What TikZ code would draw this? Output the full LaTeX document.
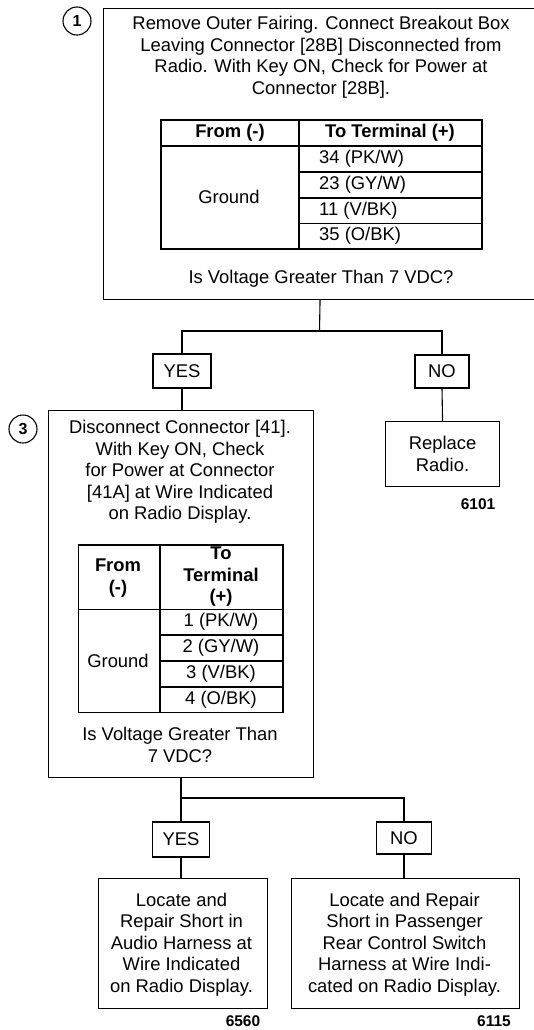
\documentclass[tikz,border=0pt]{standalone}
\usepackage{fontspec}
\setmainfont{Liberation Sans}
\begin{document}
\begin{tikzpicture}[x=1pt,y=-1pt,
  box/.style={draw, line width=1.1pt, inner sep=0pt, anchor=north west},
  txt/.style={font=\fontsize{18.4}{21.5}\selectfont, align=center, inner sep=0pt},
  btxt/.style={font=\fontsize{18.4}{21.5}\selectfont\bfseries, align=center, inner sep=0pt},
  rtxt/.style={font=\fontsize{18.4}{21.5}\selectfont, inner sep=0pt, anchor=west},
  num/.style={font=\fontsize{15.5}{18}\selectfont\bfseries, inner sep=0pt},
  step circle/.style={draw, circle, line width=1.1pt, minimum size=28pt, inner sep=0pt, font=\fontsize{16}{18}\selectfont\bfseries},
  tline/.style={line width=1.1pt},
  conn/.style={line width=1.1pt}]
\useasboundingbox (0,0) rectangle (534,1030);

% ---- step 1 ----
\node[box, minimum width=433pt, minimum height=291pt] (b1) at (103,8) {};
\node[step circle] (c1) at (77,21) {1};
\node[txt] (t1) at (321,57) {Remove Outer Fairing. Connect Breakout Box\\Leaving Connector [28B] Disconnected from\\Radio. With Key ON, Check for Power at\\Connector [28B].};
% table 1
\draw[tline] (161,120) rectangle (482,249);
\draw[tline] (299,120) -- (299,249);
\draw[tline] (161,146) -- (482,146);
\draw[tline] (299,172) -- (482,172);
\draw[tline] (299,198) -- (482,198);
\draw[tline] (299,223.5) -- (482,223.5);
\node[btxt] (h11) at (230,133) {From (-)};
\node[btxt] (h12) at (390,133) {To Terminal (+)};
\node[txt] (g1) at (229,197) {Ground};
\node[rtxt] (r11) at (319,159) {34 (PK/W)};
\node[rtxt] (r12) at (319,185) {23 (GY/W)};
\node[rtxt] (r13) at (319,211) {11 (V/BK)};
\node[rtxt] (r14) at (319,236) {35 (O/BK)};
\node[txt] (q1) at (321,279) {Is Voltage Greater Than 7 VDC?};

% ---- decision 1 ----
\coordinate (j1) at (319.5,331);
\node[box, minimum width=58pt, minimum height=34pt, anchor=center] (y1) at (182,371) {};
\node[txt] (y1t) at (y1.center) {YES};
\node[box, minimum width=54pt, minimum height=33pt, anchor=center] (n1) at (442,371.5) {};
\node[txt] (n1t) at (n1.center) {NO};
\draw[conn] (b1.south) -- (j1);
\draw[conn] (y1.north) |- (j1) -| (n1.north);

% replace radio
\node[box, minimum width=114pt, minimum height=65pt] (rr) at (385,421) {};
\node[txt] (rrt) at (rr.center) {Replace\\Radio.};
\node[num] (l1) at (478,504) {6101};
\draw[conn] (n1.south) -- (rr.north);

% ---- step 3 ----
\node[box, minimum width=265pt, minimum height=367pt] (b3) at (48,410) {};
\node[step circle] (c3) at (23,429) {3};
\node[txt] (t3) at (180,472) {Disconnect Connector [41].\\With Key ON, Check\\for Power at Connector\\{[41A]} at Wire Indicated\\on Radio Display.};
\draw[conn] (y1.south) -- (b3.north -| y1.south);
% table 2
\draw[tline] (78.6,545) rectangle (283,712.6);
\draw[tline] (160,545) -- (160,712.6);
\draw[tline] (78.6,609.6) -- (283,609.6);
\draw[tline] (160,635) -- (283,635);
\draw[tline] (160,661) -- (283,661);
\draw[tline] (160,687) -- (283,687);
\node[btxt] (h21) at (118,578) {From\\(-)};
\node[btxt] (h22) at (221,577) {To\\Terminal\\(+)};
\node[txt] (g2) at (118,661) {Ground};
\node[txt] (r21) at (221,622) {1 (PK/W)};
\node[txt] (r22) at (221,648) {2 (GY/W)};
\node[txt] (r23) at (221,674) {3 (V/BK)};
\node[txt] (r24) at (221,700) {4 (O/BK)};
\node[txt] (q3) at (180,745) {Is Voltage Greater Than\\7 VDC?};

% ---- decision 3 ----
\node[box, minimum width=57pt, minimum height=35pt, anchor=center] (y2) at (181,839.5) {};
\node[txt] (y2t) at (y2.center) {YES};
\node[box, minimum width=54.5pt, minimum height=32pt, anchor=center] (n2) at (404,838) {};
\node[txt] (n2t) at (n2.center) {NO};
\coordinate (j2) at (181,798);
\draw[conn] (b3.south -| y2.north) -- (y2.north);
\draw[conn] (j2) -| (n2.north);

\node[box, minimum width=169pt, minimum height=130pt] (b4) at (97.5,878) {};
\node[txt] (t4) at (181.5,944.5) {Locate and\\Repair Short in\\Audio Harness at\\Wire Indicated\\on Radio Display.};
\node[box, minimum width=228pt, minimum height=130pt] (b5) at (290.5,878) {};
\node[txt] (t5) at (404.5,944.5) {Locate and Repair\\Short in Passenger\\Rear Control Switch\\Harness at Wire Indi-\\cated on Radio Display.};
\draw[conn] (y2.south) -- (b4.north -| y2.south);
\draw[conn] (n2.south) -- (b5.north -| n2.south);
\node[num] (l2) at (243,1021) {6560};
\node[num] (l3) at (494,1021) {6115};
\end{tikzpicture}
\end{document}
